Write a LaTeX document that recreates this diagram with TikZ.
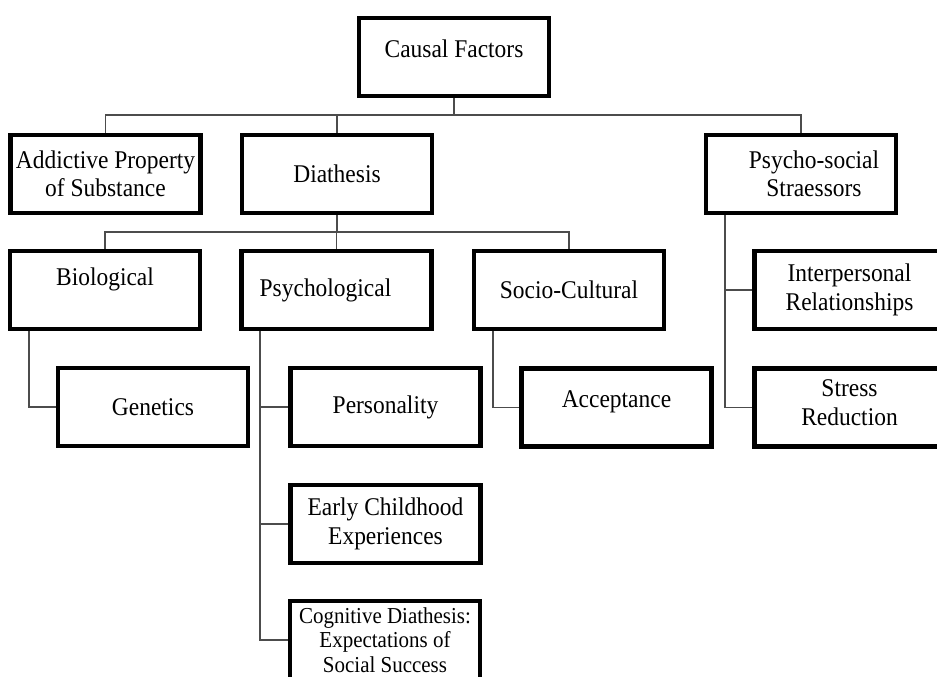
\documentclass[tikz,border=0pt]{standalone}
\usepackage{fontspec}
\setmainfont{Liberation Serif}[FakeStretch=0.92]
\newcommand{\boxfont}{\fontsize{25.5}{28.5}\selectfont}
\newcommand{\smallboxfont}{\fontsize{22.8}{24.5}\selectfont}
\tikzset{%
	factor/.style = {draw, rectangle, line width=4.5pt, fill=white, minimum width=190pt, minimum height=78pt, inner sep=2pt, text centered, align=center, font=\boxfont},
	caption/.style = {font=\boxfont, align=center},
	link/.style   = {line width=1.8pt, draw=black!70},
}

\begin{document}
\begin{tikzpicture}[x=1pt,y=-1pt]
		\clip (0,0) rectangle (937,677);
		\fill[white] (0,0) rectangle (937,677);
		
		% first and second level
		\node[factor, label={[caption,yshift=8pt]center:Causal Factors}] (causal) at (454,57) {};
		\node[factor] (addict) at (105.5,174) {Addictive Property\\of Substance};
		\node[factor] (diath) at (337,174) {Diathesis};
		\node[factor, label={[caption,xshift=13pt]center:Psycho-social\\Straessors}] (psysoc) at (801,174) {};
		
		% third level
		\node[factor, label={[caption,yshift=11pt]center:Biological}] (bio) at (105,290) {};
		\node[factor, label={[caption,xshift=-11pt]center:Psychological}] (psych) at (336.5,290) {};
		\node[factor] (socio) at (569,290) {Socio-Cultural};
		\node[factor] (inter) at (849.5,290) {Interpersonal\\Relationships};
		
		% fourth level
		\node[factor] (genet) at (153,407) {Genetics};
		\node[factor] (pers) at (385.5,407) {Personality};
		\node[factor, label={[caption,yshift=6pt]center:Acceptance}] (accept) at (616.5,407.5) {};
		\node[factor, label={[caption,yshift=5pt]center:Stress\\Reduction}] (stress) at (849.5,407.5) {};
		\node[factor] (early) at (385.5,524) {Early Childhood\\Experiences};
		\node[factor, font=\smallboxfont] (cognit) at (385,640) {Cognitive Diathesis:\\Expectations of\\Social Success};
		
		% connectors
		\foreach \child in {addict,diath,psysoc} \draw[link] (causal.south) -- ++(0,17) -| (\child.north);
		\foreach \child in {bio,psych,socio} \draw[link] (diath.south) -- ++(0,17) -| (\child.north);
		
		\draw[link] ([xshift=21pt]bio.south west) |- (genet.west);
		\foreach \child in {pers,early,cognit} \draw[link] ([xshift=21pt]psych.south west) |- (\child.west);
		\draw[link] ([xshift=21pt]socio.south west) |- (accept.west);
		\foreach \child in {inter,stress} \draw[link] ([xshift=21pt]psysoc.south west) |- (\child.west);
\end{tikzpicture}
\end{document}
